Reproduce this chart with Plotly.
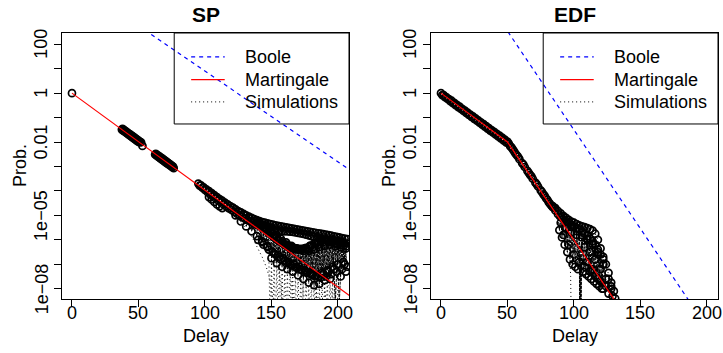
import numpy as np
import plotly.graph_objects as go

FONT = "Liberation Sans, Arial, Helvetica, sans-serif"

# ---------------- axis ticks ----------------
x_ticks = [0, 50, 100, 150, 200]
x_tick_text = ["0", "50", "100", "150", "200"]
y_tick_vals = [1e-8, 1e-7, 1e-6, 1e-5, 1e-4, 1e-3, 1e-2, 1e-1, 1, 10, 100]
y_label_vals = [1e-8, 1e-5, 1e-2, 1, 100]
y_label_text = ["1e\u221208", "1e\u221205", "0.01", "1", "100"]

# ---------------- bound curves (probabilities) ----------------
sp_line_delay = [0, 50, 100, 150, 200, 210]
sp_boole = [4.07e4, 5.69e2, 7.94, 1.11e-1, 1.55e-3, 6.6e-4]
sp_martingale = [1.0, 1.04e-2, 1.07e-4, 1.11e-6, 1.15e-8, 4.6e-9]

edf_boole_delay = [0, 50, 100, 150, 200]
edf_boole = [3.8e6, 3.47e2, 3.16e-2, 2.9e-6, 2.6e-10]
edf_mart_delay = [0, 50, 100, 130, 140]
edf_martingale = [1.0, 1.0e-2, 9.8e-7, 3.8e-9, 6.0e-10]

# ---------------- simulations, SP (log10 of probability) ----------------
sp_a_x = [0]
sp_a_e = [0.0]
sp_b_x = [38, 39, 40, 41, 42, 43, 44, 45, 46, 47, 48, 49, 50, 51, 52, 53]
sp_b_e = [-1.46, -1.50, -1.54, -1.58, -1.62, -1.66, -1.70, -1.74, -1.78, -1.82, -1.86, -1.90, -1.94, -1.98, -2.01, -2.16]
sp_b2_x = [37.5, 38.5, 39.5, 40.5, 41.5, 42.5, 43.5, 44.5, 45.5, 46.5, 47.5, 48.5, 49.5, 50.5]
sp_b2_e = [-1.49, -1.53, -1.57, -1.61, -1.65, -1.69, -1.73, -1.77, -1.81, -1.85, -1.89, -1.93, -1.97, -2.01]
sp_c_x = [63, 64, 65, 66, 67, 68, 69, 70, 71, 72, 73, 74, 75, 76]
sp_c_e = [-2.48, -2.52, -2.56, -2.60, -2.64, -2.68, -2.72, -2.76, -2.80, -2.84, -2.88, -2.92, -2.96, -3.00]
sp_c2_x = [62.5, 63.5, 64.5, 65.5, 66.5, 67.5, 68.5, 69.5, 70.5, 71.5, 72.5, 73.5, 74.5, 75.5, 76.5]
sp_c2_e = [-2.51, -2.55, -2.59, -2.63, -2.67, -2.71, -2.75, -2.79, -2.83, -2.87, -2.91, -2.95, -2.99, -3.03, -3.07]
# upper band of the fan (two simulations, odd and even delays)
sp_up_x = list(range(95, 208, 2))
sp_up_e = [-3.70, -3.77, -3.85, -3.93, -4.01, -4.09, -4.17, -4.25, -4.33, -4.40, -4.48, -4.55, -4.62, -4.68,
           -4.75, -4.82, -4.88, -4.94, -5.00, -5.05, -5.10, -5.15, -5.19, -5.23, -5.27, -5.30, -5.33, -5.36,
           -5.38, -5.41, -5.43, -5.45, -5.47, -5.49, -5.51, -5.53, -5.55, -5.57, -5.59, -5.61, -5.63, -5.65,
           -5.67, -5.69, -5.71, -5.73, -5.75, -5.77, -5.79, -5.81, -5.83, -5.86, -5.88, -5.90, -5.93, -5.95, -5.97]
sp_lo_x = list(range(96, 207, 2))
sp_lo_e = [-3.78, -3.87, -3.96, -4.05, -4.14, -4.22, -4.31, -4.39, -4.47, -4.55, -4.63, -4.71, -4.78, -4.86,
           -4.93, -5.00, -5.07, -5.13, -5.19, -5.25, -5.31, -5.36, -5.41, -5.45, -5.49, -5.52, -5.55, -5.58,
           -5.60, -5.62, -5.63, -5.64, -5.65, -5.66, -5.67, -5.68, -5.70, -5.72, -5.74, -5.76, -5.79, -5.82,
           -5.85, -5.88, -5.91, -5.94, -5.97, -6.00, -6.04, -6.07, -6.11, -6.15, -6.18, -6.21, -6.24, -6.27]
sp_f_x = [140, 143, 146, 149, 152, 155, 158, 161, 164, 167, 170, 173, 176, 179, 182, 185, 188]
sp_f_e = [-5.25, -5.40, -5.55, -5.70, -5.85, -6.00, -6.12, -6.22, -6.30, -6.35, -6.37, -6.37, -6.33, -6.25, -6.15, -6.05, -5.97]
sp_h_x = [103, 105, 107, 109, 111, 113]
sp_h_e = [-4.25, -4.35, -4.45, -4.55, -4.63, -4.70]
sp_z2_x = [121, 123, 125, 127, 129, 131, 133, 135, 137, 139, 141, 143, 145, 147, 149]
sp_z2_e = [-4.70, -5.00, -4.85, -5.25, -4.98, -5.45, -5.10, -5.65, -5.22, -5.85, -5.30, -6.05, -5.40, -6.25, -5.50]
sp_z1_x = list(range(150, 207, 2))
sp_z1_e = [-6.75, -5.90, -6.95, -6.05, -7.10, -6.20, -7.20, -6.30, -7.30, -6.35, -7.45, -6.38, -7.60, -6.35, -7.75,
           -6.25, -7.85, -6.15, -7.80, -6.05, -7.65, -6.00, -7.60, -6.00, -8.60, -6.05, -7.50, -6.10, -7.30]
sp_z3_x = list(range(151, 208, 2))
sp_z3_e = [-5.85, -6.60, -6.00, -6.80, -6.15, -6.95, -6.28, -7.05, -6.35, -7.15, -6.38, -7.25, -6.35, -7.35, -6.25,
           -7.45, -6.15, -7.50, -6.05, -7.40, -6.00, -7.30, -6.00, -7.20, -6.05, -8.60, -6.10, -7.00, -6.15]
sp_z4_x = list(range(140, 207, 2))
sp_z4_e = [-6.00, -5.45, -6.20, -5.60, -6.40, -5.75, -6.55, -5.90, -6.70, -6.05, -6.85, -6.20, -7.00, -6.30,
           -7.10, -6.40, -7.20, -6.45, -7.30, -6.45, -7.40, -6.40, -7.45, -6.30, -7.35, -6.25, -7.25, -6.20,
           -7.10, -6.25, -7.00, -6.30, -6.90, -6.35]
sp_z5_x = list(range(141, 208, 2))
sp_z5_e = [-5.35, -6.10, -5.50, -6.30, -5.65, -6.50, -5.80, -6.60, -5.95, -6.75, -6.10, -6.90, -6.25, -7.00,
           -6.35, -7.10, -6.40, -7.25, -6.40, -7.35, -6.30, -7.50, -6.20, -7.55, -6.10, -7.50, -6.05, -7.40,
           -6.05, -7.30, -6.10, -7.20, -6.15, -7.10]
sp_fall1_x = [96, 100, 104, 108, 112, 116, 120, 124, 128, 132, 136, 140, 143, 146, 148, 150, 152]
sp_fall1_e = [-3.78, -3.95, -4.12, -4.30, -4.49, -4.68, -4.88, -5.10, -5.35, -5.62, -5.95, -6.35, -6.70, -7.10, -7.45, -8.00, -9.50]
sp_fall2_x = [120, 128, 136, 142, 148, 152, 155, 157, 159]
sp_fall2_e = [-4.80, -5.20, -5.60, -5.95, -6.35, -6.75, -7.20, -7.70, -9.50]
sp_fall3_x = [130, 140, 148, 155, 160, 163, 165, 167]
sp_fall3_e = [-5.15, -5.60, -6.00, -6.40, -6.80, -7.20, -7.70, -9.50]
sp_fall4_x = [140, 150, 158, 165, 170, 173, 175]
sp_fall4_e = [-5.55, -6.00, -6.40, -6.80, -7.20, -7.70, -9.50]
sp_fall5_x = [150, 160, 168, 175, 180, 183, 185]
sp_fall5_e = [-5.95, -6.40, -6.80, -7.20, -7.60, -8.00, -9.50]
sp_fall6_x = [160, 170, 178, 185, 190, 193]
sp_fall6_e = [-6.35, -6.80, -7.20, -7.60, -8.00, -9.50]
sp_fall7_x = [170, 180, 188, 195, 198]
sp_fall7_e = [-6.75, -7.20, -7.60, -8.00, -9.50]
sp_zh_x = list(range(148, 201))
sp_zh_e = [-6.60, -9.5, -6.75, -9.5, -6.85, -9.5, -6.95, -9.5, -7.00, -9.5, -7.10, -9.5, -7.15, -9.5,
           -7.20, -9.5, -7.25, -9.5, -7.30, -9.5, -7.40, -9.5, -7.45, -9.5, -7.50, -9.5, -7.60, -9.5,
           -7.70, -9.5, -7.75, -9.5, -7.80, -9.5, -7.85, -9.5, -7.85, -9.5, -7.80, -9.5, -7.70, -9.5,
           -7.65, -9.5, -7.60, -9.5, -7.60, -9.5, -7.70, -9.5, -8.00, -9.5, -7.80]

# ---------------- simulations, EDF ----------------
edf_a_x = list(range(0, 51, 2))
edf_a_e = [0.00, -0.08, -0.16, -0.24, -0.31, -0.40, -0.48, -0.55, -0.64, -0.71, -0.80, -0.88, -0.95, -1.03,
           -1.11, -1.19, -1.27, -1.35, -1.43, -1.51, -1.58, -1.66, -1.74, -1.82, -1.90, -1.98]
edf_a2_x = list(range(1, 50, 2))
edf_a2_e = [-0.08, -0.16, -0.24, -0.33, -0.41, -0.49, -0.57, -0.65, -0.73, -0.81, -0.89, -0.97, -1.05, -1.13,
            -1.21, -1.29, -1.37, -1.45, -1.53, -1.61, -1.69, -1.77, -1.85, -1.93, -2.02]
edf_b_x = [52, 54, 56, 58, 62, 66, 68, 72, 76, 78, 80, 82, 84]
edf_b_e = [-2.17, -2.30, -2.47, -2.60, -2.92, -3.26, -3.40, -3.73, -4.05, -4.20, -4.36, -4.53, -4.66]
edf_b2_x = [51, 53, 55, 57, 59, 61, 63, 65, 67, 69, 71, 73, 75, 77, 79, 81, 83, 85]
edf_b2_e = [-2.06, -2.22, -2.38, -2.54, -2.70, -2.86, -3.02, -3.18, -3.34, -3.50, -3.66, -3.82, -3.98,
            -4.14, -4.30, -4.46, -4.60, -4.68]
edf_c_x = [84, 86, 88, 90, 92, 94, 96, 98, 100, 102, 104, 106, 108, 110, 112, 114, 116, 118, 120, 122, 124, 126, 128, 130, 131]
edf_c_e = [-4.62, -4.70, -4.82, -4.92, -5.02, -5.10, -5.18, -5.25, -5.30, -5.36, -5.41, -5.45, -5.48, -5.52,
           -5.56, -5.62, -5.75, -6.00, -6.35, -6.70, -7.00, -7.35, -7.75, -8.10, -8.40]
edf_d_x = [86, 90, 94, 98, 102, 106, 110, 114, 118, 122, 126, 128, 130]
edf_d_e = [-4.80, -5.05, -5.28, -5.48, -5.65, -5.80, -5.95, -6.15, -6.50, -7.00, -7.60, -8.00, -8.60]
edf_e_x = [108, 110, 112, 114, 116, 118, 120, 122, 124, 126, 128, 129]
edf_e_e = [-6.30, -6.90, -6.50, -7.20, -6.80, -7.60, -7.20, -8.00, -7.60, -8.20, -7.90, -8.30]
edf_f_x = [80, 84, 86, 88, 90, 92, 94, 96, 97, 97.5, 98]
edf_f_e = [-4.40, -4.70, -4.95, -5.30, -5.80, -6.15, -6.40, -6.60, -6.80, -7.50, -9.50]
edf_g_x = list(range(88, 123))
edf_g_e = [-4.95, -5.60, -5.05, -5.90, -5.15, -6.20, -5.22, -6.50, -5.30, -6.80, -5.38, -7.00, -5.45, -7.10,
           -5.52, -7.20, -5.58, -9.50, -5.65, -7.30, -5.75, -7.40, -5.85, -7.50, -5.95, -7.60, -6.05, -7.70,
           -6.20, -7.80, -6.40, -7.90, -6.60, -8.00, -6.80]
edf_g2_x = list(range(90, 125, 2))
edf_g2_e = [-5.30, -5.80, -5.50, -6.20, -5.70, -6.60, -5.80, -6.90, -5.90, -7.10, -6.00, -7.30, -6.20, -7.50,
            -6.60, -7.70, -7.00, -7.90]
edf_h_x = [104, 104.4, 104.8, 105.2, 105.6]
edf_h_e = [-6.50, -9.50, -6.60, -9.50, -6.70]

DOT = "1px,3px"
DENSE = "3px,1px"


def sim_trace(x, e, xa, ya, markers=True, dash=DOT):
    n = min(len(x), len(e))
    return go.Scatter(
        x=x[:n], y=np.power(10.0, np.array(e[:n], dtype=float)),
        mode="lines+markers" if markers else "lines",
        line=dict(color="black", width=1, dash=dash),
        marker=dict(symbol="circle-open", size=7, color="black", line=dict(width=1.7, color="black")),
        xaxis=xa, yaxis=ya, showlegend=False, hoverinfo="skip",
    )


fig = go.Figure()

sp_sets = [
    (sp_a_x, sp_a_e, True, DOT), (sp_b_x, sp_b_e, True, DOT), (sp_b2_x, sp_b2_e, True, DOT),
    (sp_c_x, sp_c_e, True, DOT), (sp_c2_x, sp_c2_e, True, DOT),
    (sp_up_x, sp_up_e, True, DOT), (sp_lo_x, sp_lo_e, True, DOT), (sp_f_x, sp_f_e, True, DOT),
    (sp_h_x, sp_h_e, True, DOT), (sp_z2_x, sp_z2_e, True, DENSE), (sp_z1_x, sp_z1_e, True, DENSE),
    (sp_z3_x, sp_z3_e, True, DENSE), (sp_z4_x, sp_z4_e, True, DENSE), (sp_z5_x, sp_z5_e, True, DENSE),
    (sp_fall1_x, sp_fall1_e, False, DOT), (sp_fall2_x, sp_fall2_e, False, DOT), (sp_fall3_x, sp_fall3_e, False, DOT),
    (sp_fall4_x, sp_fall4_e, False, DOT), (sp_fall5_x, sp_fall5_e, False, DOT), (sp_fall6_x, sp_fall6_e, False, DOT),
    (sp_fall7_x, sp_fall7_e, False, DOT), (sp_zh_x, sp_zh_e, False, DOT),
]
for x, e, m, d in sp_sets:
    fig.add_trace(sim_trace(x, e, "x", "y", m, d))

edf_sets = [
    (edf_a_x, edf_a_e, True, DOT), (edf_a2_x, edf_a2_e, True, DOT), (edf_b_x, edf_b_e, True, DOT),
    (edf_b2_x, edf_b2_e, True, DOT),
    (edf_c_x, edf_c_e, True, DOT), (edf_d_x, edf_d_e, True, DOT), (edf_e_x, edf_e_e, True, DOT),
    (edf_f_x, edf_f_e, False, DOT), (edf_g_x, edf_g_e, True, DENSE), (edf_g2_x, edf_g2_e, True, DENSE),
    (edf_h_x, edf_h_e, False, DENSE),
]
for x, e, m, d in edf_sets:
    fig.add_trace(sim_trace(x, e, "x2", "y2", m, d))

# bounds
fig.add_trace(go.Scatter(x=sp_line_delay, y=sp_martingale, mode="lines", line=dict(color="#FF0000", width=1.2),
                         xaxis="x", yaxis="y", showlegend=False, hoverinfo="skip"))
fig.add_trace(go.Scatter(x=sp_line_delay, y=sp_boole, mode="lines", line=dict(color="#0000FF", width=1.2, dash="4px,4px"),
                         xaxis="x", yaxis="y", showlegend=False, hoverinfo="skip"))
fig.add_trace(go.Scatter(x=edf_mart_delay, y=edf_martingale, mode="lines", line=dict(color="#FF0000", width=1.2),
                         xaxis="x2", yaxis="y2", showlegend=False, hoverinfo="skip"))
fig.add_trace(go.Scatter(x=edf_boole_delay, y=edf_boole, mode="lines", line=dict(color="#0000FF", width=1.2, dash="4px,4px"),
                         xaxis="x2", yaxis="y2", showlegend=False, hoverinfo="skip"))

W, H = 723, 353
PL_L, PL_R, PR_L, PR_R = 62, 349, 431, 718
P_TOP, P_BOT = 33, 299

xcommon = dict(range=[-7.5, 208.3], tickvals=x_ticks, ticks="outside", ticklen=7, tickcolor="black",
               showline=True, mirror=True, linecolor="black", linewidth=1, showgrid=False, zeroline=False,
               automargin=False, showticklabels=False)
ycommon = dict(type="log", range=[-8.42, 2.46], tickvals=y_tick_vals,
               ticks="outside", ticklen=7, tickcolor="black", showline=True, mirror=True, linecolor="black",
               linewidth=1, showgrid=False, zeroline=False, automargin=False, showticklabels=False,
               domain=[1 - P_BOT / H, 1 - P_TOP / H])

fig.update_layout(
    width=W, height=H, margin=dict(l=0, r=0, t=0, b=0, autoexpand=False),
    paper_bgcolor="white", plot_bgcolor="white", showlegend=False,
    xaxis=dict(domain=[PL_L / W, PL_R / W], anchor="y", **xcommon),
    yaxis=dict(anchor="x", **ycommon),
    xaxis2=dict(domain=[PR_L / W, PR_R / W], anchor="y2", **xcommon),
    yaxis2=dict(anchor="x2", **ycommon),
)

TXT = dict(family=FONT, size=18, color="black")
annotations = []
shapes = []
panels = [("x", "y", PL_L, PL_R, "SP"), ("x2", "y2", PR_L, PR_R, "EDF")]
for xa, ya, left, right, title in panels:
    xd, yd = xa + " domain", ya + " domain"
    cx = (left + right) / 2
    annotations.append(dict(text="<b>%s</b>" % title, x=cx / W, y=1 - 14 / H, xref="paper", yref="paper",
                            showarrow=False, xanchor="center", yanchor="middle",
                            font=dict(family=FONT, size=21, color="black")))
    annotations.append(dict(text="Delay", x=cx / W, y=1 - 336 / H, xref="paper", yref="paper",
                            showarrow=False, xanchor="center", yanchor="middle", font=TXT))
    annotations.append(dict(text="Prob.", x=(left - 42) / W, y=1 - 166 / H, xref="paper", yref="paper",
                            showarrow=False, xanchor="center", yanchor="middle", textangle=-90, font=TXT))
    # tick labels
    for v, t in zip(x_ticks, x_tick_text):
        annotations.append(dict(text=t, x=v, y=1 - 312.5 / H, xref=xa, yref="paper", showarrow=False,
                                xanchor="center", yanchor="middle", font=TXT))
    for v, t in zip(y_label_vals, y_label_text):
        annotations.append(dict(text=t, x=(left - 20.5) / W, y=float(np.log10(v)), xref="paper", yref=ya,
                                showarrow=False, xanchor="center", yanchor="middle", textangle=-90, font=TXT))
    # legend box
    shapes.append(dict(type="rect", xref=xd, yref=yd, x0=0.391, x1=1.0, y0=0.658, y1=1.0,
                       line=dict(color="black", width=1), fillcolor="rgba(0,0,0,0)", layer="above"))
    rows = [(0.910, "Boole", dict(color="#0000FF", width=1.2, dash="4px,4px")),
            (0.825, "Martingale", dict(color="#FF0000", width=1.2)),
            (0.741, "Simulations", dict(color="black", width=1, dash=DOT))]
    for yy, lab, ln in rows:
        shapes.append(dict(type="line", xref=xd, yref=yd, x0=0.45, x1=0.567, y0=yy, y1=yy, line=ln, layer="above"))
        annotations.append(dict(text=lab, x=0.631, y=yy, xref=xd, yref=yd, showarrow=False,
                                xanchor="left", yanchor="middle", font=TXT))

fig.update_layout(annotations=annotations, shapes=shapes)

fig.write_html("out.html", config={"displayModeBar": False},
               post_script="document.body.style.margin='0px';document.body.style.overflow='hidden';")
